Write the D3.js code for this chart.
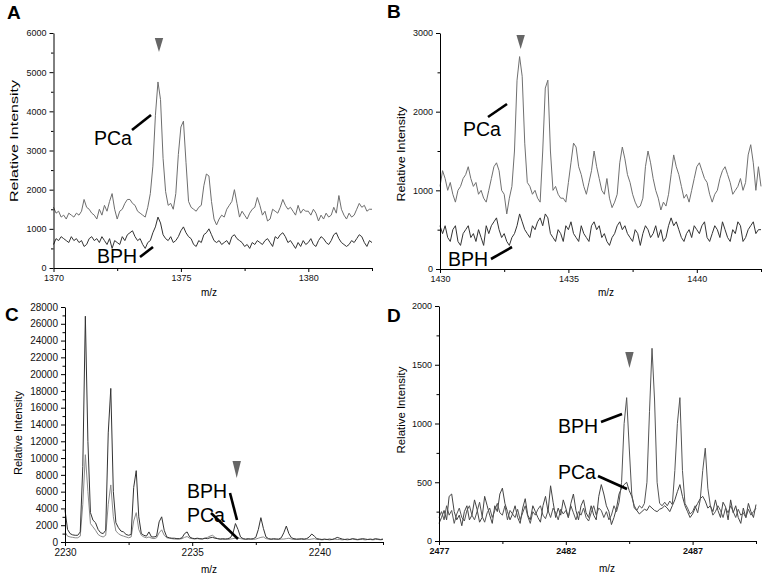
<!DOCTYPE html>
<html><head><meta charset="utf-8">
<script src="https://cdn.jsdelivr.net/npm/d3@7"></script>
<style>body{margin:0;background:#fff}svg{display:block}text{font-family:"Liberation Sans",Arial,sans-serif}</style>
</head><body><svg id="chart" width="771" height="573"></svg>
<script>
// ---------- data (m/z sampled every mzStep from each panel's start) ----------
const mzStep = 0.1;

const mzStartA = 1370;
const pcaA = [1550,1400,1450,1300,1350,1250,1400,1350,1300,1400,
 1350,1450,1750,1550,1500,1400,1350,1250,1500,1350,
 1600,1450,1700,1900,1500,1250,1450,1500,1650,1750,
 1750,1650,1600,1450,1400,1350,1300,1550,1900,2600,
 3900,4750,4300,2800,1950,1600,1650,1500,1900,2900,
 3600,3750,2700,1700,1550,1500,1450,1550,1600,2100,
 2400,2350,1700,1250,1100,1250,1350,1300,1500,1600,
 1700,2000,1650,1300,1450,1350,1250,1400,1500,1550,
 1800,1600,1350,1450,1200,1250,1500,1450,1400,1550,
 1750,1600,1500,1550,1450,1350,1600,1400,1500,1450,
 1450,1350,1500,1400,1200,1350,1250,1400,1300,1350,
 1550,1400,1850,1500,1350,1250,1400,1300,1350,1500,
 1650,1550,1600,1450,1500,1500];
const bphA = [600,750,700,800,750,700,650,800,700,750,
 650,700,550,600,750,800,700,750,650,800,
 700,600,750,500,700,650,600,800,700,850,
 900,950,800,700,750,600,500,650,700,900,
 1050,1300,1150,850,750,700,800,650,700,800,
 950,1050,900,800,750,600,550,700,650,850,
 900,1000,850,700,650,700,600,650,700,600,
 800,850,750,700,650,550,600,500,650,600,
 700,650,600,700,750,650,550,800,750,850,
 900,800,650,700,600,500,650,550,700,600,
 650,750,600,550,700,800,750,650,600,700,
 850,900,750,650,600,550,600,700,650,750,
 850,800,650,550,700,650];

const mzStartB = 1430;
const pcaB = [1050,1250,1150,1000,1100,950,850,1000,1050,1150,
 1200,1300,1150,1050,1100,950,1000,900,850,1000,
 1150,1300,1350,1250,1000,950,700,900,1050,1500,
 2400,2700,2450,1600,1100,1050,950,1000,900,850,
 1500,2300,2400,1500,1000,1050,950,900,900,850,
 1100,1350,1600,1550,1300,1200,1050,950,1100,1250,
 1500,1300,1150,1000,950,1150,900,780,850,950,
 1350,1550,1400,1200,1100,950,850,780,800,900,
 1300,1500,1350,1150,1000,900,750,850,800,950,
 1200,1450,1300,1200,1050,900,950,850,1000,1150,
 1300,1350,1250,1150,1100,950,850,950,1000,1150,
 1250,1300,1200,1100,950,1000,1050,1150,1000,1100,
 1450,1580,1350,1000,1300,1050];
const bphB = [550,450,550,400,350,500,550,350,300,450,
 500,550,400,450,350,500,400,300,550,450,
 550,600,650,500,400,450,350,300,400,450,
 550,700,600,500,450,400,550,500,600,650,
 550,700,650,450,400,350,500,450,350,550,
 500,600,450,400,350,550,450,400,350,550,
 600,500,550,400,450,350,300,400,450,550,
 600,500,550,450,400,350,500,450,300,450,
 550,500,400,450,550,400,500,350,400,550,
 650,550,600,500,400,350,450,500,400,550,
 500,450,550,600,400,350,450,550,500,400,
 600,500,400,350,500,450,600,550,350,400,
 500,550,600,450,500,500];

const mzStartC = 2230;
const bphC = [3800,1500,1000,850,800,800,1200,9000,26900,12000,
 3500,2600,2300,1500,1100,1000,1400,13000,18300,6000,
 2300,1700,1300,1200,900,800,900,6500,8500,3000,
 1000,800,700,1200,600,600,700,2400,3000,1400,
 600,500,450,450,400,400,500,1000,1200,600,
 450,400,450,400,350,450,400,500,550,450,
 400,350,400,350,400,500,1000,2200,1500,600,
 400,350,400,350,400,550,1500,2900,1600,600,
 400,350,400,350,350,500,1100,1900,1000,500,
 400,350,350,400,350,400,600,950,700,400,
 350,300,350,300,350,300,400,550,450,350,
 300,350,300,400,350,300,350,400,350,300,
 350,300,400,350,300,350];
const pcaC = [1200,700,600,550,500,500,700,4500,10400,6000,
 2200,1800,1400,900,700,600,800,4500,6800,3000,
 1300,1000,800,700,600,500,600,2500,3500,1500,
 800,600,500,600,450,400,500,1100,1450,800,
 500,450,400,350,350,350,400,550,650,450,
 400,350,400,350,400,450,550,700,800,550,
 400,350,300,350,300,350,400,450,500,400,
 350,300,300,350,300,350,450,550,600,400,
 350,300,300,350,300,350,350,400,450,350,
 300,300,350,300,300,350,300,350,400,300,
 300,250,300,300,250,300,350,300,300,250,
 300,250,300,350,300,250,300,300,250,300,
 300,250,300,300,250,300];

const mzStartD = 2477;
const bphD = [200,250,180,300,220,260,150,230,280,200,
 170,260,300,220,180,250,330,210,160,240,
 280,200,260,320,240,220,300,180,260,230,
 200,270,180,240,300,210,150,250,220,270,
 300,220,190,260,200,280,240,180,270,230,
 260,200,300,240,180,250,220,280,200,170,
 240,300,220,280,260,200,250,180,220,300,
 250,330,500,1000,1220,800,400,280,260,300,
 280,320,500,1100,1640,1200,500,320,300,330,
 300,340,310,600,1000,1220,600,320,280,230,
 250,300,240,350,600,790,450,300,220,250,
 300,260,200,280,240,300,250,200,270,220,
 240,200,270,220,250,280];
const pcaD = [150,200,260,180,380,400,250,180,220,130,
 250,300,180,220,350,270,160,200,380,300,
 220,150,300,250,400,450,320,250,180,230,
 300,200,150,280,360,220,180,300,250,200,
 160,300,380,250,470,330,200,280,220,350,
 280,200,320,400,260,180,300,350,240,200,
 300,220,180,380,480,400,300,250,140,200,
 280,400,450,480,500,430,380,300,260,230,
 250,270,260,300,280,260,250,270,280,300,
 280,250,300,350,420,480,380,300,250,200,
 230,280,320,360,380,340,280,300,250,350,
 260,200,330,290,180,350,240,300,200,150,
 280,200,320,250,200,310];

// tick values
const xTicksA = [1370,1375,1380], xMinorA = [1372.5,1377.5,1382.5];
const yTicksA = [0,1000,2000,3000,4000,5000,6000], yMinorA = [500,1500,2500,3500,4500,5500];
const xTicksB = [1430,1435,1440], xMinorB = [1432.5,1437.5,1442.5];
const yTicksB = [0,1000,2000,3000], yMinorB = [500,1500,2500];
const xTicksC = [2230,2235,2240], xMinorC = [2232.5,2237.5,2242.5];
const yTicksC = [0,2000,4000,6000,8000,10000,12000,14000,16000,18000,20000,22000,24000,26000,28000];
const yMinorC = [1000,3000,5000,7000,9000,11000,13000,15000,17000,19000,21000,23000,25000,27000];
const xTicksD = [2477,2482,2487], xMinorD = [2479.5,2484.5,2489.5];
const yTicksD = [0,500,1000,1500,2000], yMinorD = [250,750,1250,1750];

// marked peaks (arrowheads)
const peakA = 1374.14, peakB = 1433.14, peakC = 2236.75, peakD = 2484.51;

// ---------- layout ----------
const panels = [
 {letter:"A", lp:[7,19], box:[53.5,372,268,33], xDom:[1370,1382.5], yDom:[0,6000], start:mzStartA,
  series:[{v:pcaA,c:"#6e6e6e"},{v:bphA,c:"#333"}], xT:xTicksA, xM:xMinorA, yT:yTicksA, yM:yMinorA,
  fs:9, xBold:false, peak:peakA, tri:[38,52], ylab:{x:14,y:141,len:122}, mz:[209,292],
  ann:[{t:"PCa",tx:94,ty:145,l:[132,130,151,115]},{t:"BPH",tx:97,ty:263,l:[140,257,153,247]}]},
 {letter:"B", lp:[387,18], box:[440,761,269,33], xDom:[1430,1442.5], yDom:[0,3000], start:mzStartB,
  series:[{v:pcaB,c:"#707070"},{v:bphB,c:"#333"}], xT:xTicksB, xM:xMinorB, yT:yTicksB, yM:yMinorB,
  fs:9, xBold:false, peak:peakB, tri:[35,49], ylab:{x:401,y:154,len:95}, mz:[606,292],
  ann:[{t:"PCa",tx:463,ty:136,l:[488,117,507,104]},{t:"BPH",tx:448,ty:266,l:[491,259,512,247]}]},
 {letter:"C", lp:[5,321], box:[65,383,542,307], xDom:[2230,2242.5], yDom:[0,28000], start:mzStartC,
  series:[{v:pcaC,c:"#8a8a8a"},{v:bphC,c:"#333"}], xT:xTicksC, xM:xMinorC, yT:yTicksC, yM:yMinorC,
  fs:10, xBold:false, peak:peakC, tri:[461,478], ylab:{x:18,y:433,len:84}, mz:[209,569],
  ann:[{t:"BPH",tx:187,ty:498,l:[230,493,237,520]},{t:"PCa",tx:187,ty:522,l:[211,513,238,539]}]},
 {letter:"D", lp:[387,322], box:[439,756,541,306], xDom:[2477,2489.5], yDom:[0,2000], start:mzStartD,
  series:[{v:pcaD,c:"#444"},{v:bphD,c:"#555"}], xT:xTicksD, xM:xMinorD, yT:yTicksD, yM:yMinorD,
  fs:9, xBold:true, peak:peakD, tri:[352,368], ylab:{x:401,y:410,len:87}, mz:[607,568],
  ann:[{t:"BPH",tx:558,ty:433,l:[601,422,622,414]},{t:"PCa",tx:558,ty:479,l:[598,476,627,489]}]}
];

const svg = d3.select("#chart");

panels.forEach(p => {
  const [x0,x1,y0,y1] = p.box;
  const x = d3.scaleLinear().domain(p.xDom).range([x0,x1]);
  const y = d3.scaleLinear().domain(p.yDom).range([y0,y1]);
  const g = svg.append("g");

  // traces
  const line = d3.line().x((d,i)=>x(p.start + i*mzStep)).y(d=>y(d));
  p.series.forEach(s => {
    g.append("path").datum(s.v).attr("d", line)
      .attr("fill","none").attr("stroke",s.c).attr("stroke-width",1).attr("stroke-linejoin","round");
  });

  // axes
  const xa = g.append("g").attr("transform",`translate(0,${y0})`)
    .call(d3.axisBottom(x).tickValues(p.xT).tickFormat(d3.format("d")).tickSize(4).tickSizeOuter(0).tickPadding(3));
  g.append("g").attr("transform",`translate(0,${y0})`)
    .call(d3.axisBottom(x).tickValues(p.xM).tickFormat("").tickSize(3).tickSizeOuter(0))
    .select(".domain").remove();
  const ya = g.append("g").attr("transform",`translate(${x0},0)`)
    .call(d3.axisLeft(y).tickValues(p.yT).tickFormat(d3.format("d")).tickSize(4).tickSizeOuter(0).tickPadding(3));
  g.append("g").attr("transform",`translate(${x0},0)`)
    .call(d3.axisLeft(y).tickValues(p.yM).tickFormat("").tickSize(2.5).tickSizeOuter(0))
    .select(".domain").remove();
  g.selectAll(".tick text").attr("font-family",'"Liberation Sans",Arial,sans-serif').attr("font-size",p.fs).attr("fill","#111");
  if (p.xBold) xa.selectAll(".tick text").attr("font-weight","bold");
  g.selectAll(".domain, .tick line").attr("stroke","#000");

  // axis titles
  g.append("text").attr("transform",`translate(${p.ylab.x},${p.ylab.y}) rotate(-90)`)
    .attr("text-anchor","middle").attr("dy","0.35em").attr("font-size",10.5)
    .attr("textLength",p.ylab.len).attr("lengthAdjust","spacingAndGlyphs").text("Relative Intensity");
  g.append("text").attr("x",p.mz[0]).attr("y",p.mz[1]).attr("dy","0.35em")
    .attr("text-anchor","middle").attr("font-size",10).text("m/z");

  // panel letter
  g.append("text").attr("x",p.lp[0]).attr("y",p.lp[1]).attr("font-size",19).attr("font-weight","bold").text(p.letter);

  // arrowhead marker
  const px = x(p.peak);
  g.append("path").attr("d",`M${px-4.2},${p.tri[0]}L${px+4.2},${p.tri[0]}L${px},${p.tri[1]}Z`).attr("fill","#666");

  // annotations
  p.ann.forEach(a => {
    g.append("text").attr("x",a.tx).attr("y",a.ty).attr("font-size",19.5).attr("fill","#000").text(a.t);
    g.append("line").attr("x1",a.l[0]).attr("y1",a.l[1]).attr("x2",a.l[2]).attr("y2",a.l[3])
      .attr("stroke","#000").attr("stroke-width",2.6);
  });
});
</script></body></html>
